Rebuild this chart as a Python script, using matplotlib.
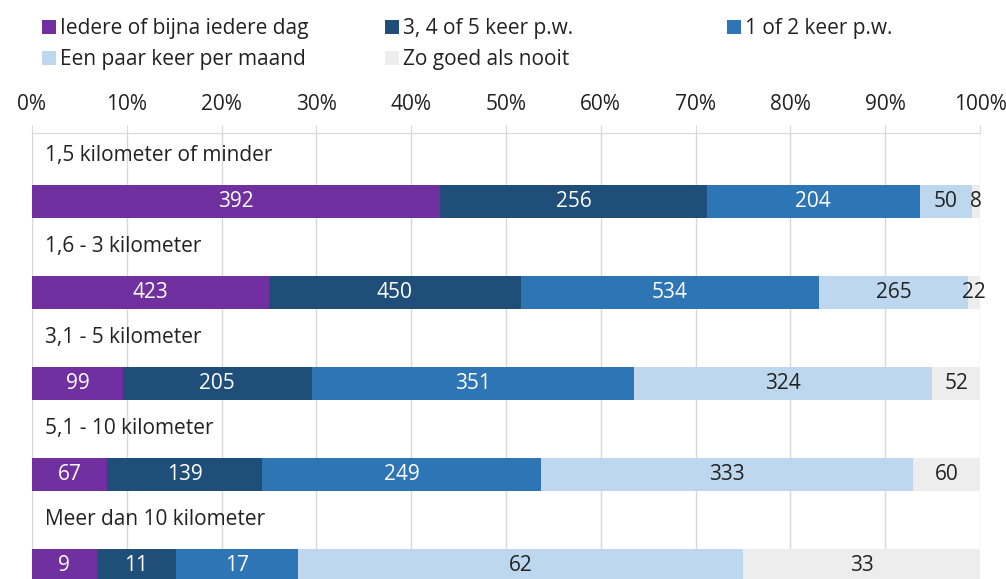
import numpy as np
import matplotlib.pyplot as plt
from matplotlib.patches import Patch

plt.rcParams['font.family'] = ['Liberation Sans Narrow', 'DejaVu Sans Condensed', 'Open Sans', 'DejaVu Sans']

categories = ["1,5 kilometer of minder", "1,6 - 3 kilometer", "3,1 - 5 kilometer",
              "5,1 - 10 kilometer", "Meer dan 10 kilometer"]
series_names = ["Iedere of bijna iedere dag", "3, 4 of 5 keer p.w.", "1 of 2 keer p.w.",
                "Een paar keer per maand", "Zo goed als nooit"]
daily = [392, 423, 99, 67, 9]
three_to_five = [256, 450, 205, 139, 11]
one_or_two = [204, 534, 351, 249, 17]
monthly = [50, 265, 324, 333, 62]
never = [8, 22, 52, 60, 33]
tick_values = list(range(0, 101, 10))

colors = ['#7030a0', '#1f4e79', '#2e75b6', '#bdd7ee', '#ededed']
label_colors = ['white', 'white', 'white', '#222222', '#222222']
TEXT = '#222222'
GRID = '#d9d9d9'

counts = np.array([daily, three_to_five, one_or_two, monthly, never], dtype=float)
pct = counts / counts.sum(axis=0) * 100
y = np.arange(len(categories))

W, H = 1006, 579
fig = plt.figure(figsize=(W / 100, H / 100), dpi=100)
# plot area runs past the bottom edge, like the cropped original
ax = fig.add_axes([32 / W, 1 - 634 / H, 948 / W, 501 / H])

left = np.zeros(len(categories))
for j in range(len(series_names)):
    ax.barh(y, pct[j], left=left, height=0.363, color=colors[j], zorder=2)
    for i in range(len(categories)):
        ax.text(left[i] + pct[j][i] / 2, y[i], f"{int(counts[j][i])}", ha='center', va='center',
                fontsize=15, color=label_colors[j], zorder=3)
    left += pct[j]

for i, cat in enumerate(categories):
    ax.text(1.4, y[i] - 0.51, cat, ha='left', va='center', fontsize=15, color=TEXT)

ax.set_xlim(0, 100)
ax.set_ylim(4.75, -0.753)
ax.xaxis.tick_top()
ax.set_xticks(tick_values)
ax.set_xticklabels([f"{v}%" for v in tick_values])
ax.tick_params(axis='x', length=6, color=GRID, pad=7, labelsize=15, labelcolor=TEXT)
ax.set_yticks([])
ax.grid(axis='x', color=GRID, linewidth=1, zorder=0)
for s in ['left', 'right', 'bottom']:
    ax.spines[s].set_visible(False)
ax.spines['top'].set_color(GRID)

handles = [Patch(facecolor=c, edgecolor='none') for c in colors]
columns = [([0, 3], 42), ([1, 4], 385), ([2], 727)]
for idx, xpx in columns:
    fig.legend([handles[k] for k in idx], [series_names[k] for k in idx],
               loc='upper left', bbox_to_anchor=(xpx / W, 1 - 18 / H),
               frameon=False, borderpad=0, borderaxespad=0, fontsize=15,
               handlelength=0.65, handleheight=0.65, handletextpad=0.2,
               labelspacing=0.5, labelcolor=TEXT)

fig.savefig('out.png', dpi=100)
